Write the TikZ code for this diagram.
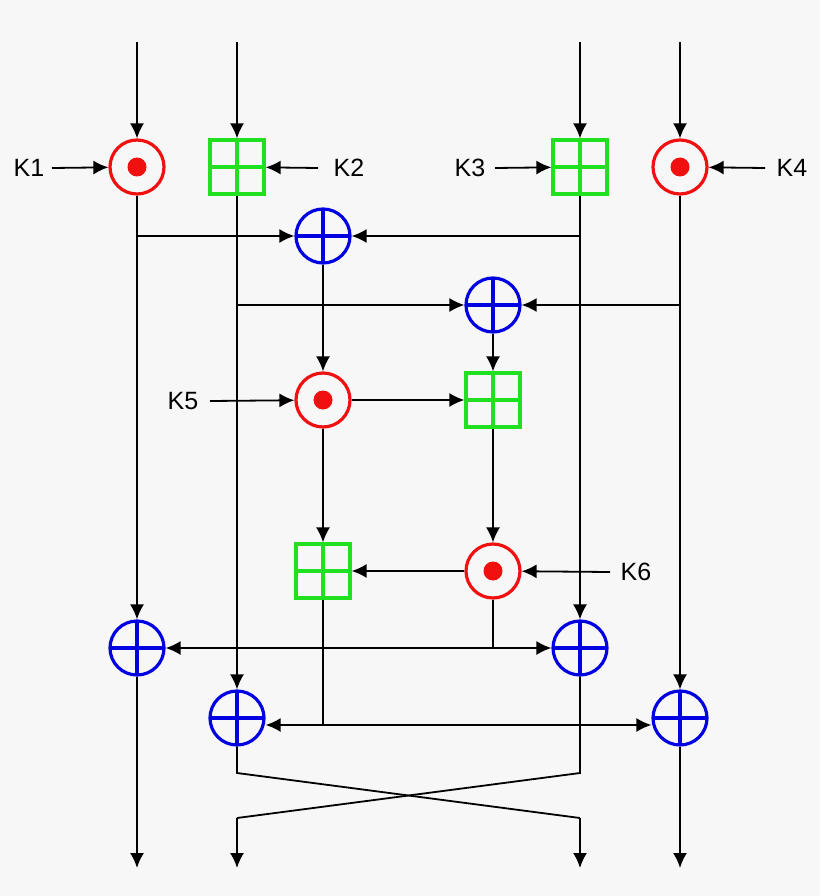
\documentclass[tikz,border=0pt]{standalone}
\usepackage{fontspec}
\setmainfont{Liberation Sans}
\usetikzlibrary{arrows.meta}
\definecolor{bg}{HTML}{F7F7F7}
\definecolor{xr}{HTML}{0000E0}
\definecolor{mr}{HTML}{F01010}
\definecolor{ag}{HTML}{20E020}
\begin{document}
\begin{tikzpicture}[x=1pt,y=-1pt,
  op/.style={minimum size=54pt,inner sep=0pt,line width=3.2pt,fill=bg},
  xor/.style={op,circle,draw=xr,path picture={\draw[xr,line width=3.2pt] (path picture bounding box.north)--(path picture bounding box.south) (path picture bounding box.west)--(path picture bounding box.east);}},
  mul/.style={op,circle,draw=mr,path picture={\fill[mr] (path picture bounding box.center) circle (9.5pt);}},
  add/.style={op,rectangle,draw=ag,path picture={\draw[ag,line width=3.2pt] (path picture bounding box.north)--(path picture bounding box.south) (path picture bounding box.west)--(path picture bounding box.east);}},
  w/.style={line width=1.8pt},
  a/.style={w,-{Latex[length=15pt,width=14pt]}},
  aa/.style={w,{Latex[length=15pt,width=14pt]}-{Latex[length=15pt,width=14pt]}},
  lab/.style={font=\fontsize{25}{29}\selectfont}]
\fill[bg] (0,0) rectangle (820,896);
\useasboundingbox (0,0) rectangle (820,896);
\coordinate (t1) at (137,42); \coordinate (t2) at (237,42);
\coordinate (t3) at (580,42); \coordinate (t4) at (680,42);
\node[mul] (m1) at (137,167) {};
\node[add] (a2) at (237,167) {};
\node[add] (a3) at (580,167) {};
\node[mul] (m4) at (680,167) {};
\node[xor] (x1) at (323,236) {};
\node[xor] (x2) at (493,305) {};
\node[mul] (m5) at (323,400) {};
\node[add] (a5) at (493,400) {};
\node[add] (a6) at (323,571) {};
\node[mul] (m6) at (493,571) {};
\node[xor] (x3) at (137,648) {};
\node[xor] (x4) at (580,648) {};
\node[xor] (x5) at (237,718) {};
\node[xor] (x6) at (680,718) {};
\node[lab] (k1) at (29,168) {K1}; \coordinate (k1e) at (52,168);
\node[lab] (k2) at (349,168) {K2}; \coordinate (k2e) at (318,168);
\node[lab] (k3) at (470,168) {K3}; \coordinate (k3e) at (495,168);
\node[lab] (k4) at (792,168) {K4}; \coordinate (k4e) at (765,168);
\node[lab] (k5) at (183,401) {K5}; \coordinate (k5e) at (210,401);
\node[lab] (k6) at (636,572) {K6}; \coordinate (k6e) at (610,572);
\draw[a] (t1)--(m1); \draw[a] (t2)--(a2); \draw[a] (t3)--(a3); \draw[a] (t4)--(m4);
\draw[a] (k1e)--(m1); \draw[a] (k2e)--(a2); \draw[a] (k3e)--(a3); \draw[a] (k4e)--(m4);
\draw[a] (k5e)--(m5); \draw[a] (k6e)--(m6);
\coordinate (b1) at (137,236); \coordinate (b3) at (580,236);
\coordinate (b2) at (237,305); \coordinate (b4) at (680,305);
\draw[a] (b1)--(x1); \draw[a] (b3)--(x1);
\draw[a] (b2)--(x2); \draw[a] (b4)--(x2);
\draw[a] (m1)--(x3); \draw[a] (a3)--(x4);
\draw[a] (a2)--(x5); \draw[a] (m4)--(x6);
\draw[a] (x1)--(m5); \draw[a] (x2)--(a5);
\draw[a] (m5)--(a5); \draw[a] (a5)--(m6);
\draw[a] (m5)--(a6); \draw[a] (m6)--(a6);
\coordinate (c1) at (493,648); \coordinate (c2) at (323,725);
\draw[w] (m6)--(c1); \draw[w] (a6)--(c2);
\draw[aa] (x3)--(x4);
\draw[aa] (x5.east|-c2)--(x6.west|-c2);
\coordinate (o1) at (137,868); \coordinate (o2) at (237,868);
\coordinate (o3) at (580,868); \coordinate (o4) at (680,868);
\coordinate (p2) at (237,773); \coordinate (p3) at (580,773);
\coordinate (q2) at (237,818); \coordinate (q3) at (580,818);
\draw[a] (x3)--(o1); \draw[a] (x6)--(o4);
\draw[w] (x5)--(p2)--(q3); \draw[a] (q3)--(o3);
\draw[w] (x4)--(p3)--(q2); \draw[a] (q2)--(o2);
\end{tikzpicture}
\end{document}
